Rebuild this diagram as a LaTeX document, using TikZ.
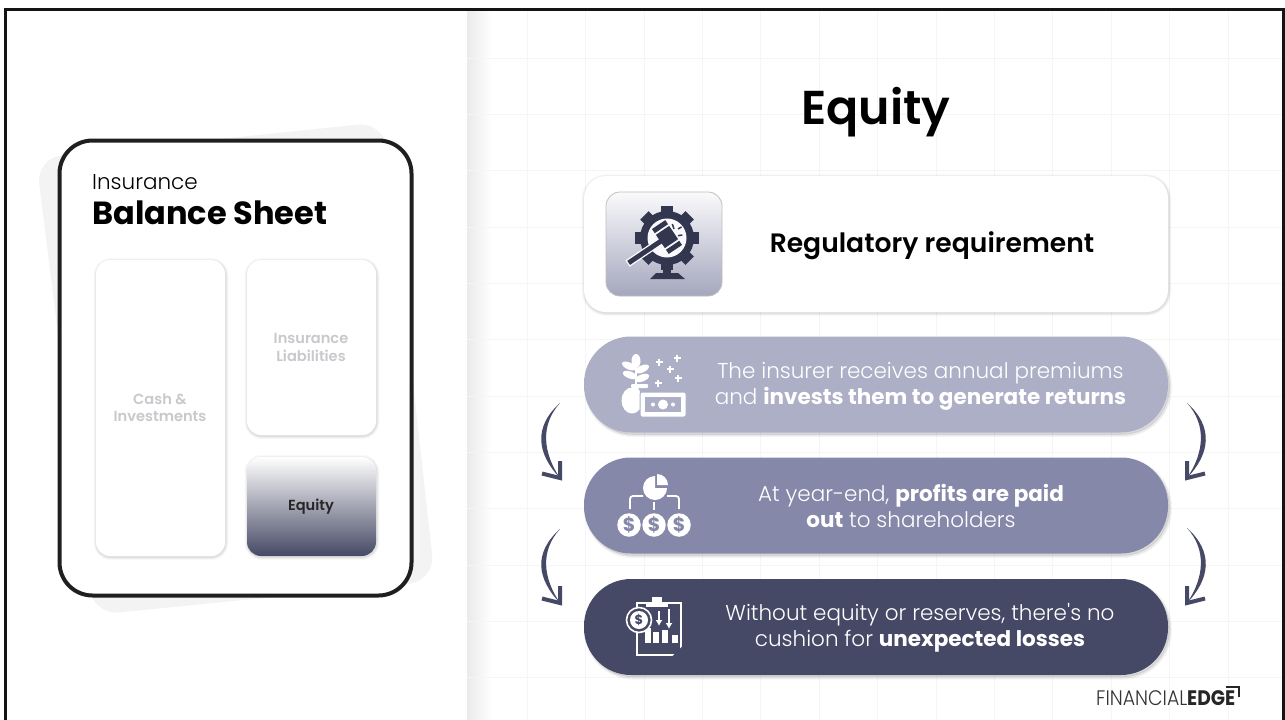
\documentclass[tikz,border=0pt]{standalone}
\usepackage{fontspec}
\setmainfont{Poppins}
\newfontfamily\lightfont{Poppins Light}
\newfontfamily\semifont{Poppins SemiBold}
\usepackage{xcolor}
\usepackage{tikz}
\usetikzlibrary{
    calc,
    arrows.meta,
    positioning
}
\definecolor{pilllight}{HTML}{ADAFC7}
\definecolor{pillmid}{HTML}{8688A9}
\definecolor{pilldark}{HTML}{464965}
\definecolor{iconink}{HTML}{33364F}
\definecolor{hairline}{HTML}{F5F5F5}
\definecolor{backsheet}{HTML}{F3F3F3}
\definecolor{mutedtext}{HTML}{C9C9CD}
\tikzset{
    softshadow/.style={
        preaction={draw=black,draw opacity=.025,line width=6pt,transform canvas={shift={(.5pt,-1pt)}}},
        preaction={draw=black,draw opacity=.04,line width=4pt,transform canvas={shift={(.5pt,-1pt)}}},
        preaction={draw=black,draw opacity=.06,line width=2pt,transform canvas={shift={(.5pt,-1pt)}}}
    },
    castshadow/.style={
        preaction={fill=black,fill opacity=.13,transform canvas={shift={(1.5pt,-2pt)}}},
        preaction={draw=black,draw opacity=.04,line width=4pt,transform canvas={shift={(2pt,-2.5pt)}}},
        preaction={draw=black,draw opacity=.05,line width=2pt,transform canvas={shift={(2pt,-2.5pt)}}}
    },
    statement/.style={minimum width=584pt,minimum height=96pt,inner sep=0pt,rounded corners=47pt},
    statementtext/.style={align=center,text=white,inner sep=0pt,font=\fontsize{21.5}{26}\selectfont\lightfont},
    slot/.style={minimum width=129pt,inner sep=0pt,rounded corners=14pt,fill=white,softshadow},
    slottext/.style={align=center,inner sep=0pt,font=\fontsize{14.6}{17.5}\selectfont\semifont},
    sweep/.style={fill=pilldark,draw=none},
    sweeptip/.style={draw=pilldark,line width=4pt,miter limit=4}
}
\newcommand{\sweeparrow}[3]{
    \fill[sweep] (#1) .. controls ($(#1)+(#3*-27,24)$) and ($(#2)+(#3*-23,-24)$) .. (#2)
        .. controls ($(#2)+(#3*-17,-25)$) and ($(#1)+(#3*-20,22)$) .. (#1) -- cycle;
    \draw[sweeptip] ($(#2)+(#3*-18,-4.5)$) -- (#2) -- ($(#2)+(0,-17)$);
}
\begin{document}
\begin{tikzpicture}[x=1pt,y=-1pt]
    \useasboundingbox (0,0) rectangle (1285,720);
    \fill[white] (0,0) rectangle (1285,720);

    \shade[left color=black!8,right color=white] (467,10) rectangle (492,720);
    \foreach \gx in {0,...,12}
        \draw[hairline] ({527+58.4*\gx},11) -- ({527+58.4*\gx},720);
    \foreach \gy in {0,...,11}
        \draw[hairline] (467,{58+56.3*\gy}) -- (1282,{58+56.3*\gy});
    \draw[black!92,line width=3pt,line join=miter] (5.5,720) -- (5.5,9.5) -- (1283,9.5) -- (1283,720);

    \fill[backsheet,rounded corners=26pt] (36,158) -- (384,122) -- (435,581) -- (93,615) -- cycle;
    \node[draw=black!88,line width=4pt,fill=white,rounded corners=33pt,minimum width=352pt,minimum height=455pt,inner sep=0pt] (sheet) at (235.5,368) {};
    \node[anchor=base west,inner sep=0pt,font=\fontsize{21.5}{24}\selectfont\lightfont] (sheetkind) at (92,189) {Insurance};
    \node[anchor=base west,inner sep=0pt,font=\fontsize{32}{34}\selectfont\bfseries] (sheettitle) at (92,224) {Balance Sheet};
    \node[slot,minimum height=296pt] (cash) at (160.5,408) {};
    \node[slot,minimum height=175pt] (liabilities) at (311.5,347.5) {};
    \node[slot,minimum height=99pt,top color=white,middle color=black!4!pilldark!40,bottom color=pilldark] (equity) at (311.5,506.5) {};
    \node[slottext,text=mutedtext] (cashtext) at (160,407.5) {Cash \&\\Investments};
    \node[slottext,text=mutedtext] (liabilitiestext) at (311,347.5) {Insurance\\Liabilities};
    \node[slottext,text=black!85] (equitytext) at (311,506.5) {Equity};

    \node[inner sep=0pt,font=\fontsize{47.5}{50}\selectfont\semifont] (heading) at (876,112.5) {Equity};

    \node[statement,softshadow,fill=white,rounded corners=22pt,minimum height=136pt] (regulation) at (876,244) {};
    \node[inner sep=0pt,rounded corners=14pt,minimum width=116pt,minimum height=104pt,draw=black!25,line width=.8pt,top color=white!94!pilllight,bottom color=pilllight!95!black] (regulationtile) at (664,244) {};
    \node[inner sep=0pt,font=\fontsize{26.6}{28}\selectfont\semifont] (regulationtext) at (932,246) {Regulatory requirement};
    \node[statement,castshadow,fill=pilllight] (premiums) at (876,384.5) {};
    \node[statement,castshadow,fill=pillmid] (profits) at (876,505.5) {};
    \node[statement,castshadow,fill=pilldark] (cushion) at (876,627) {};
    \node[statementtext] (premiumstext) at (920.5,386) {The insurer receives annual premiums\\and {\normalfont\bfseries invests them to generate returns}};
    \node[statementtext] (profitstext) at (911,506) {At year-end, {\normalfont\bfseries profits are paid}\\{\normalfont\bfseries out} to shareholders};
    \node[statementtext] (cushiontext) at (920,628) {Without equity or reserves, there's no\\cushion for {\normalfont\bfseries unexpected losses}};

    \begin{scope}[shift={(667,238)}]
        \foreach \a in {0,45,...,315}
            \draw[iconink,line width=12pt] (\a:24) -- (\a:32);
        \fill[iconink] (0,0) circle (27pt);
        \fill[white!94!pilllight] (0,0) circle (19.5pt);
        \fill[iconink] (-4,28) rectangle (4,36);
        \fill[iconink] (-11,35) -- (11,35) -- (18,41) -- (-17,41) -- cycle;
        \draw[iconink,line width=1.5pt] (5.3,-14) -- (7,-9);
        \draw[iconink,line width=1.5pt] (11,-9) -- (14.5,-11);
        \draw[iconink,line width=1.5pt] (11,-2.3) -- (15.3,-3);
        \begin{scope}[shift={(0,-1)},rotate=34]
            \draw[fill=iconink,draw=white!94!pilllight,line width=1.2pt] (-47,-3.2) rectangle (-6,3.2);
            \fill[iconink] (-8,-8) rectangle (8,8);
            \fill[iconink] (-8,-15) rectangle (8,-10);
            \fill[iconink] (-8,10) rectangle (8,15);
        \end{scope}
    \end{scope}

    \draw[white,line width=1.4pt] (636,384) -- (636,360);
    \fill[white] (636,361) ellipse [x radius=4.5pt,y radius=7pt];
    \foreach \lx/\ly/\la in {629/366/-25,642/369/25,630/375/-20,642/378/20}
        \fill[white,rotate around={\la:(\lx,\ly)}] (\lx,\ly) ellipse [x radius=7.5pt,y radius=3.5pt];
    \foreach \px/\py in {659/362,677/358,670/369,678/378,658/383}
        \draw[white,line width=1.3pt] (\px-3.5,\py) -- (\px+3.5,\py) (\px,\py-3.5) -- (\px,\py+3.5);
    \fill[white,rounded corners=1pt] (631,384) rectangle (648,388);
    \fill[white] (632,400.5) ellipse [x radius=10.5pt,y radius=13pt];
    \fill[white] (626,392) -- (640,392) -- (638,388) -- (629,388) -- cycle;
    \draw[fill=white,draw=pilllight,line width=1pt,rounded corners=2pt] (640,392) rectangle (686,417);
    \fill[pilllight] (645,397) rectangle (681,412);
    \fill[white] (663,404.5) circle (5pt) (653,404.5) circle (2pt) (673,404.5) circle (2pt);

    \fill[white] (655,488) -- (655,476) arc [start angle=90,end angle=360,radius=12pt] -- cycle;
    \fill[white] (657,485) -- (657,474) arc [start angle=90,end angle=0,radius=11pt] -- cycle;
    \draw[white,line width=1.8pt,rounded corners=3pt] (643,496) -- (630,496) -- (630,509);
    \draw[white,line width=1.8pt,rounded corners=3pt] (667,496) -- (679,496) -- (679,509);
    \draw[white,line width=1.8pt] (654,502) -- (654,510);
    \foreach \dx in {629,654,679}
        \node[circle,fill=white,minimum size=23.5pt,inner sep=0pt,text=pillmid,font=\fontsize{19}{19}\selectfont\bfseries] (payout\dx) at (\dx,525) {\$};

    \draw[white,line width=2.6pt] (637,603) rectangle (681,655);
    \fill[white] (652,597) rectangle (662,603);
    \fill[white] (646,603) rectangle (668,607);
    \foreach \bx/\by in {645/628,653/632,662/630,672/635}
        \fill[white] (\bx,\by) rectangle (\bx+6,643);
    \draw[white,line width=2pt,-{Latex[length=6pt,width=7pt]}] (659,611) -- (659,626);
    \draw[white,line width=2pt,-{Latex[length=6pt,width=7pt]}] (669,609) -- (669,629);
    \fill[pilldark] (682.5,656.5) -- (672,656.5) -- (682.5,646) -- cycle;
    \node[circle,draw=white,line width=1.6pt,fill=pilldark,minimum size=25pt,inner sep=0pt] (coinring) at (639,620) {};
    \node[circle,fill=white,minimum size=18pt,inner sep=0pt,text=pilldark,font=\fontsize{13}{13}\selectfont\bfseries] (coin) at (639,620) {\$};

    \coordinate (leftupperfrom) at (560,403);
    \coordinate (leftupperto) at (560,478);
    \coordinate (leftlowerfrom) at (560,529);
    \coordinate (leftlowerto) at (560,603);
    \coordinate (rightupperfrom) at (1187,403);
    \coordinate (rightupperto) at (1187,478);
    \coordinate (rightlowerfrom) at (1187,528);
    \coordinate (rightlowerto) at (1187,603);
    \sweeparrow{leftupperfrom}{leftupperto}{1}
    \sweeparrow{leftlowerfrom}{leftlowerto}{1}
    \sweeparrow{rightupperfrom}{rightupperto}{-1}
    \sweeparrow{rightlowerfrom}{rightlowerto}{-1}

    \node[anchor=base west,inner sep=0pt,font=\fontsize{21}{21}\selectfont\lightfont,text=black!80] (logothin) at (1096,705) {\scalebox{.9}[1]{FINANCIAL}};
    \node[anchor=base west,inner sep=0pt,font=\fontsize{21}{21}\selectfont\bfseries,text=black!85] (logobold) at (1187,705) {\scalebox{.89}[1]{EDGE}};
    \coordinate (logobracketa) at (1226,687);
    \coordinate (logobracketb) at (1239,687);
    \coordinate (logobracketc) at (1239,697);
    \draw[black!85,line width=1.6pt] (logobracketa) -- (logobracketb) -- (logobracketc);
\end{tikzpicture}
\end{document}
